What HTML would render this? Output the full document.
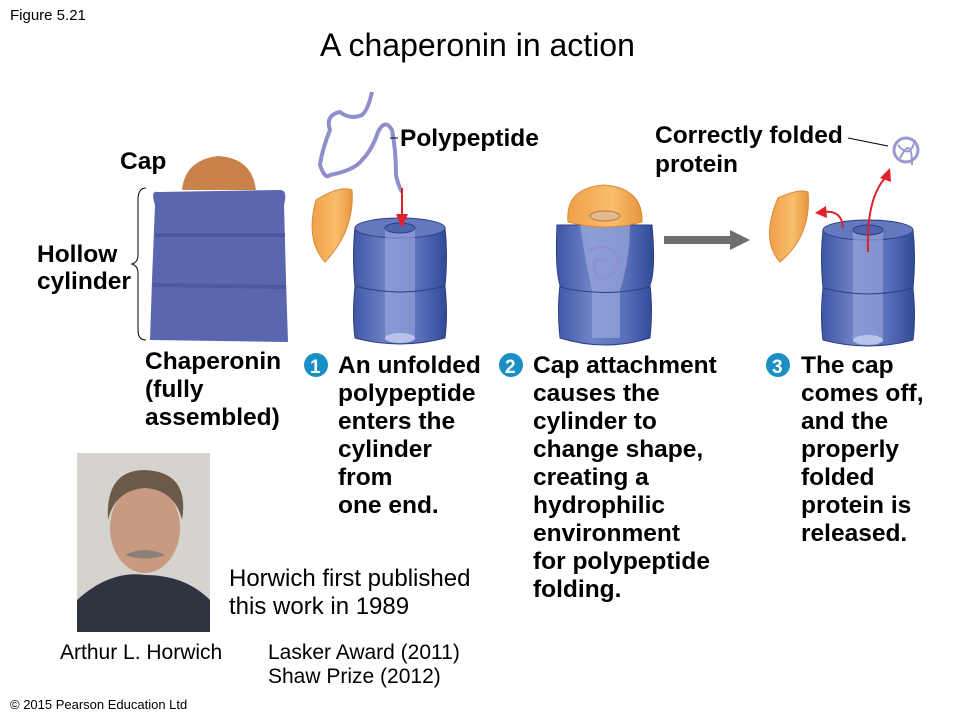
<!DOCTYPE html>
<html><head><meta charset="utf-8"><style>
body{margin:0;background:#fff;}
svg{display:block;font-family:"Liberation Sans",Arial,sans-serif;}
.b{font-weight:bold;font-size:24.5px;fill:#000;}
</style></head><body>
<svg width="960" height="720" viewBox="0 0 960 720" xmlns="http://www.w3.org/2000/svg">
<defs>
<linearGradient id="cyl" x1="0" x2="1">
<stop offset="0" stop-color="#3f56a6"/><stop offset="0.35" stop-color="#6f82c6"/><stop offset="0.7" stop-color="#5b70bb"/><stop offset="1" stop-color="#2f4a98"/></linearGradient>
<linearGradient id="cap" x1="0" x2="1"><stop offset="0" stop-color="#f0a04a"/><stop offset="0.6" stop-color="#f9bd6c"/><stop offset="1" stop-color="#e9953e"/></linearGradient>
<g id="cy">
<path d="M0,8 Q-3,35 0,66 Q-3,95 0,118 Q45,130 90,118 Q93,95 90,66 Q93,35 90,8 Q45,-4 0,8Z" fill="url(#cyl)" stroke="#2c3f80" stroke-width="1"/>
<ellipse cx="45" cy="8" rx="45" ry="10" fill="#6478c0" stroke="#2c3f80"/>
<rect x="30" y="8" width="30" height="112" fill="#9aa8dc" opacity="0.6"/>
<ellipse cx="45" cy="8" rx="15" ry="5" fill="#4e63ae" stroke="#2c3f80"/>
<path d="M0,66 Q45,78 90,66" fill="none" stroke="#2c3f80"/>
<ellipse cx="45" cy="118" rx="15" ry="5" fill="#b9c3ea"/>
</g>
</defs>
<text x="10" y="20" font-size="15">Figure 5.21</text>
<text x="320" y="56" font-size="32">A chaperonin in action</text>

<!-- chaperonin model -->
<path d="M182,190 Q185,160 218,156 Q252,158 256,190Z" fill="#c9824a"/>
<path d="M158,192 Q150,190 155,205 L152,280 L150,340 L288,342 L286,280 L284,205 Q288,190 280,190Z" fill="#5a66b0"/>
<path d="M155,235 L285,235 M153,285 L286,287" stroke="#4b579e" stroke-width="4"/>
<path d="M146,188 Q138,188 138,200 L138,255 Q138,262 132,264 Q138,266 138,273 L138,330 Q138,340 146,340" fill="none" stroke="#000" stroke-width="1"/>
<text class="b" x="120" y="169">Cap</text>
<text class="b" x="37" y="262">Hollow</text>
<text class="b" x="37" y="289">cylinder</text>
<text class="b" x="145" y="369">Chaperonin</text>
<text class="b" x="145" y="397">(fully</text>
<text class="b" x="145" y="425">assembled)</text>

<!-- step 1 -->
<path d="M372,92 Q368,110 362,115 Q350,120 340,112 Q325,115 330,130 Q322,150 320,165 Q325,180 330,175 Q355,170 362,160 Q372,150 378,132 Q385,118 392,130 Q396,150 396,175 Q398,185 402,192" fill="none" stroke="#8f8fcc" stroke-width="4"/>
<line x1="390" y1="138" x2="398" y2="138" stroke="#000"/>
<text class="b" x="400" y="146">Polypeptide</text>
<path d="M316,200 Q340,185 352,190 Q355,230 325,262 Q305,240 316,200Z" fill="url(#cap)" stroke="#d98a30"/>
<use href="#cy" x="355" y="220"/>
<line x1="402" y1="188" x2="402" y2="218" stroke="#e0202a" stroke-width="2"/>
<path d="M396,214 L402,228 L408,214Z" fill="#e0202a"/>

<!-- step 2 -->
<path d="M557,225 Q555,270 560,285 Q557,310 560,338 Q605,352 650,338 Q653,310 650,285 Q656,270 652,225Z" fill="url(#cyl)" stroke="#2c3f80"/>
<path d="M580,225 Q585,260 592,290 L592,338 L620,338 L620,290 Q630,260 630,225Z" fill="#a3b0e0" opacity="0.6"/>
<path d="M590,250 Q615,240 620,265 Q600,290 595,270 Q590,255 610,262" fill="none" stroke="#8f8fcc" stroke-width="2"/>
<path d="M568,222 Q565,188 604,185 Q643,188 642,222 Q605,232 568,222Z" fill="url(#cap)" stroke="#d98a30"/>
<ellipse cx="605" cy="216" rx="15" ry="5" fill="#e5b98d" stroke="#b07a4a"/>
<path d="M560,287 Q605,298 650,287" fill="none" stroke="#2c3f80"/>
<rect x="664" y="236" width="68" height="8" fill="#6d6f6c"/>
<path d="M730,230 L750,240 L730,250Z" fill="#6d6f6c"/>

<!-- step 3 -->
<path d="M778,198 Q800,188 808,192 Q812,235 780,262 Q760,240 778,198Z" fill="url(#cap)" stroke="#d98a30"/>
<use href="#cy" x="823" y="222"/>
<path d="M843,228 Q842,210 824,212" fill="none" stroke="#e0202a" stroke-width="2"/>
<path d="M826,206 L815,213 L827,218Z" fill="#e0202a"/>
<path d="M868,252 Q866,200 885,178" fill="none" stroke="#e0202a" stroke-width="2"/>
<path d="M880,178 L890,168 L891,182Z" fill="#e0202a"/>
<circle cx="906" cy="150" r="12" fill="none" stroke="#9a9ad0" stroke-width="3"/>
<path d="M898,145 Q910,160 915,140 M900,158 Q912,135 912,165" fill="none" stroke="#9a9ad0" stroke-width="2"/>
<line x1="848" y1="138" x2="888" y2="146" stroke="#000"/>
<text class="b" x="655" y="143">Correctly folded</text>
<text class="b" x="655" y="172">protein</text>

<!-- step labels -->
<circle cx="316" cy="365" r="12" fill="#1a8fc5"/><text x="310" y="373" fill="#fff" font-size="19" font-weight="bold">1</text>
<circle cx="511" cy="365" r="12" fill="#1a8fc5"/><text x="505" y="373" fill="#fff" font-size="19" font-weight="bold">2</text>
<circle cx="778" cy="365" r="12" fill="#1a8fc5"/><text x="772" y="373" fill="#fff" font-size="19" font-weight="bold">3</text>
<text class="b" x="338" y="373">An unfolded</text>
<text class="b" x="338" y="401">polypeptide</text>
<text class="b" x="338" y="429">enters the</text>
<text class="b" x="338" y="457">cylinder</text>
<text class="b" x="338" y="485">from</text>
<text class="b" x="338" y="513">one end.</text>
<text class="b" x="533" y="373">Cap attachment</text>
<text class="b" x="533" y="401">causes the</text>
<text class="b" x="533" y="429">cylinder to</text>
<text class="b" x="533" y="457">change shape,</text>
<text class="b" x="533" y="485">creating a</text>
<text class="b" x="533" y="513">hydrophilic</text>
<text class="b" x="533" y="541">environment</text>
<text class="b" x="533" y="569">for polypeptide</text>
<text class="b" x="533" y="597">folding.</text>
<text class="b" x="801" y="373">The cap</text>
<text class="b" x="801" y="401">comes off,</text>
<text class="b" x="801" y="429">and the</text>
<text class="b" x="801" y="457">properly</text>
<text class="b" x="801" y="485">folded</text>
<text class="b" x="801" y="513">protein is</text>
<text class="b" x="801" y="541">released.</text>

<!-- photo -->
<rect x="77" y="453" width="133" height="179" fill="#d6d3cf"/>
<path d="M77,632 L77,600 Q110,570 145,575 Q185,575 210,600 L210,632Z" fill="#2e3440"/>
<ellipse cx="145" cy="528" rx="35" ry="45" fill="#c99a82"/>
<path d="M108,520 Q105,470 145,470 Q190,472 182,520 Q175,490 145,488 Q115,490 108,520Z" fill="#6b5a4a"/>
<path d="M125,555 Q145,545 165,555 Q145,562 125,555Z" fill="#8a8078"/>
<text x="60" y="659" font-size="21">Arthur  L. Horwich</text>
<text x="229" y="586" font-size="24">Horwich first published</text>
<text x="229" y="614" font-size="24">this work in 1989</text>
<text x="268" y="659" font-size="21">Lasker Award (2011)</text>
<text x="268" y="683" font-size="21">Shaw Prize (2012)</text>
<text x="10" y="709" font-size="13">© 2015 Pearson Education Ltd</text>
</svg>
</body></html>
